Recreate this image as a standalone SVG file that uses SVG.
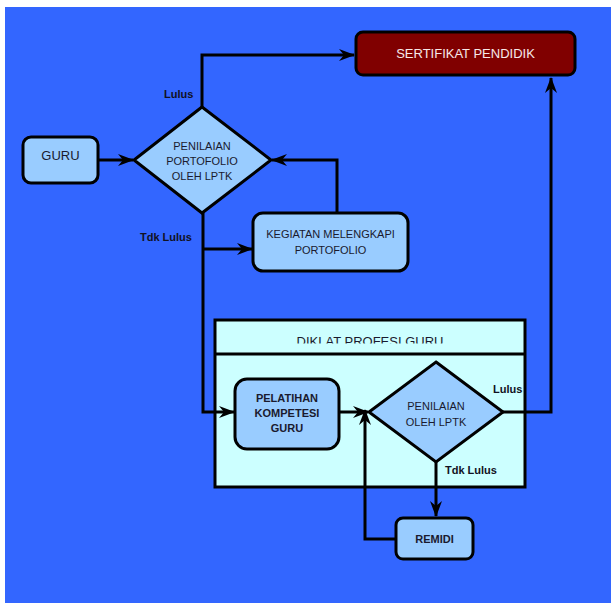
<svg xmlns="http://www.w3.org/2000/svg" width="611" height="603" viewBox="0 0 611 603">
  <defs>
    <style>
      .box { fill: #99ccff; stroke: #000; stroke-width: 3; }
      .t { font-family: "Liberation Sans", Arial, sans-serif; font-size: 11px; fill: #1a1a2e; text-anchor: middle; }
      .b { font-weight: bold; }
      .lbl { font-family: "Liberation Sans", Arial, sans-serif; font-size: 11px; font-weight: bold; fill: #111122; }
      .con { fill: none; stroke: #000; stroke-width: 3; }
    </style>
    <marker id="arr" viewBox="0 0 16 12" refX="15" refY="6" markerWidth="16" markerHeight="12" markerUnits="userSpaceOnUse" orient="auto">
      <path d="M0,0 L16,6 L0,12 L5,6 z" fill="#000"/>
    </marker>
    <clipPath id="hdrclip">
      <rect x="215" y="319" width="310" height="24.5"/>
    </clipPath>
  </defs>

  <rect x="5" y="7" width="606" height="596" fill="#3366ff"/>

  <g id="diklat">
    <rect x="215" y="320" width="310" height="167" fill="#ccffff" stroke="#000" stroke-width="3"/>
    <line x1="215" y1="354" x2="525" y2="354" stroke="#000" stroke-width="3"/>
    <text x="370" y="345.5" class="t" style="font-size:13px" clip-path="url(#hdrclip)">DIKLAT PROFESI GURU</text>
  </g>

  <g id="connectors">
    <polyline class="con" points="202,107 202,55 354,55" marker-end="url(#arr)"/>
    <line class="con" x1="98" y1="160" x2="133" y2="160" marker-end="url(#arr)"/>
    <polyline class="con" points="337,212 337,160 272,160" marker-end="url(#arr)"/>
    <polyline class="con" points="203,213 203,412 234,412" marker-end="url(#arr)"/>
    <line class="con" x1="203" y1="249" x2="252" y2="249" marker-end="url(#arr)"/>
    <line class="con" x1="339" y1="412" x2="368" y2="412" marker-end="url(#arr)"/>
    <polyline class="con" points="503,412 551,412 551,78" marker-end="url(#arr)"/>
    <line class="con" x1="436" y1="462" x2="436" y2="516" marker-end="url(#arr)"/>
    <polyline class="con" points="396,539 365,539 365,410" marker-end="url(#arr)"/>
    <text x="164" y="98" class="lbl">Lulus</text>
    <text x="140" y="241" class="lbl">Tdk Lulus</text>
    <text x="493" y="393" class="lbl">Lulus</text>
    <text x="445" y="474" class="lbl">Tdk Lulus</text>
  </g>

  <g id="sertifikat">
    <rect x="356" y="32" width="219" height="43" rx="7" fill="#800000" stroke="#000" stroke-width="3"/>
    <text x="465.5" y="58" class="t" style="font-size:13px;fill:#f7e8e8">SERTIFIKAT PENDIDIK</text>
  </g>

  <g id="guru">
    <rect x="23" y="137" width="75" height="46" rx="8" class="box"/>
    <text x="60.5" y="160" class="t" style="font-size:13px">GURU</text>
  </g>

  <g id="penilaian-portofolio">
    <polygon points="202,107 271,160 202,213 134,160" class="box"/>
    <text x="202" y="150" class="t">PENILAIAN</text>
    <text x="202" y="165" class="t">PORTOFOLIO</text>
    <text x="202" y="180" class="t">OLEH LPTK</text>
  </g>

  <g id="kegiatan">
    <rect x="253" y="213" width="155" height="58" rx="10" class="box"/>
    <text x="330.5" y="238" class="t">KEGIATAN MELENGKAPI</text>
    <text x="330.5" y="254" class="t">PORTOFOLIO</text>
  </g>

  <g id="pelatihan">
    <rect x="235" y="379" width="104" height="70" rx="12" class="box"/>
    <text x="287" y="402" class="t b">PELATIHAN</text>
    <text x="287" y="417" class="t b">KOMPETESI</text>
    <text x="287" y="432" class="t b">GURU</text>
  </g>

  <g id="penilaian-lptk">
    <polygon points="436,362 503,412 436,462 369,412" class="box"/>
    <text x="436" y="410" class="t">PENILAIAN</text>
    <text x="436" y="426" class="t">OLEH LPTK</text>
  </g>

  <g id="remidi">
    <rect x="396" y="518" width="77" height="41" rx="7" class="box"/>
    <text x="434.5" y="543" class="t b">REMIDI</text>
  </g>
</svg>
